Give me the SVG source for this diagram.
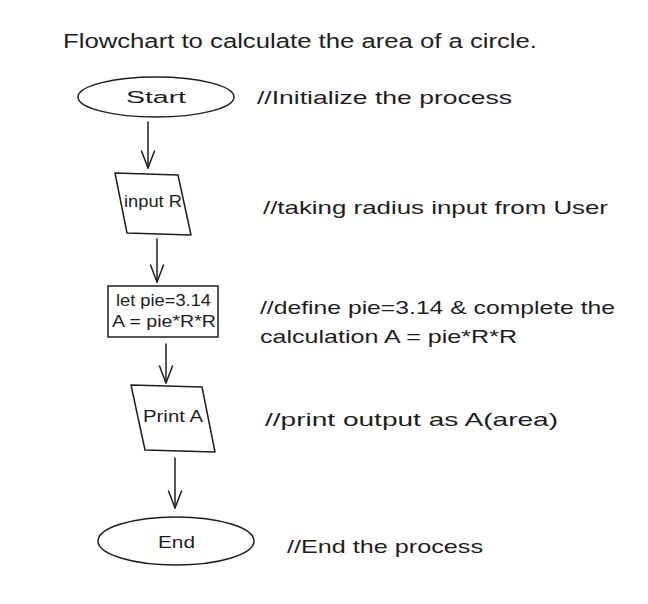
<svg xmlns="http://www.w3.org/2000/svg" width="648" height="604" viewBox="0 0 648 604">
<style>
.s{fill:none;stroke:#1e1e1e;stroke-width:1.5;stroke-linecap:round;stroke-linejoin:round}
.t{font-family:"Liberation Sans","DejaVu Sans",sans-serif;fill:#1e1e1e}
.a{font-size:19px}
.n{font-size:16px}
</style>
<defs>
<marker id="ah" markerWidth="20" markerHeight="16" refX="18" refY="8" orient="auto" markerUnits="userSpaceOnUse" viewBox="0 0 20 16">
<path d="M1,1.5 L18,8 L1,14.5" fill="none" stroke="#1e1e1e" stroke-width="1.5" stroke-linecap="round" stroke-linejoin="round"/>
</marker>
</defs>
<rect width="648" height="604" fill="#ffffff"/>
<text class="t" x="63" y="48" font-size="20" textLength="474" lengthAdjust="spacingAndGlyphs">Flowchart to calculate the area of a circle.</text>

<g id="connectors">
<path class="s" d="M148,122 L148,168" marker-end="url(#ah)"/>
<path class="s" d="M157,239 L157,282" marker-end="url(#ah)"/>
<path class="s" d="M166,344 L166,383" marker-end="url(#ah)"/>
<path class="s" d="M175,458 L175,508" marker-end="url(#ah)"/>
</g>

<g id="start">
<ellipse class="s" cx="156" cy="97" rx="78" ry="20"/>
<text class="t n" x="126" y="103" textLength="60" lengthAdjust="spacingAndGlyphs">Start</text>
</g>
<g id="input">
<path class="s" d="M115,173 L178,175 L191,235 L127,233 Z"/>
<text class="t n" x="124" y="207" font-size="14" textLength="58" lengthAdjust="spacingAndGlyphs">input R</text>
</g>
<g id="calc">
<rect class="s" x="108" y="286" width="110" height="51"/>
<text class="t n" x="116" y="306" textLength="95" lengthAdjust="spacingAndGlyphs">let pie=3.14</text>
<text class="t n" x="112" y="327" textLength="104" lengthAdjust="spacingAndGlyphs">A = pie*R*R</text>
</g>
<g id="print">
<path class="s" d="M131,385 L202,387 L215,452 L145,450 Z"/>
<text class="t n" x="143" y="422" font-size="15" textLength="60" lengthAdjust="spacingAndGlyphs">Print A</text>
</g>
<g id="end">
<ellipse class="s" cx="176" cy="541" rx="78" ry="24"/>
<text class="t n" x="158" y="548" textLength="37" lengthAdjust="spacingAndGlyphs">End</text>
</g>

<g id="notes">
<text class="t a" x="257" y="104" textLength="255" lengthAdjust="spacingAndGlyphs">//Initialize the process</text>
<text class="t a" x="263" y="214" textLength="345" lengthAdjust="spacingAndGlyphs">//taking radius input from User</text>
<text class="t a" x="260" y="314" textLength="355" lengthAdjust="spacingAndGlyphs">//define pie=3.14 &amp; complete the</text>
<text class="t a" x="260" y="343" textLength="257" lengthAdjust="spacingAndGlyphs">calculation A = pie*R*R</text>
<text class="t a" x="265" y="426" textLength="293" lengthAdjust="spacingAndGlyphs">//print output as A(area)</text>
<text class="t a" x="287" y="553" textLength="196" lengthAdjust="spacingAndGlyphs">//End the process</text>
</g>
</svg>
